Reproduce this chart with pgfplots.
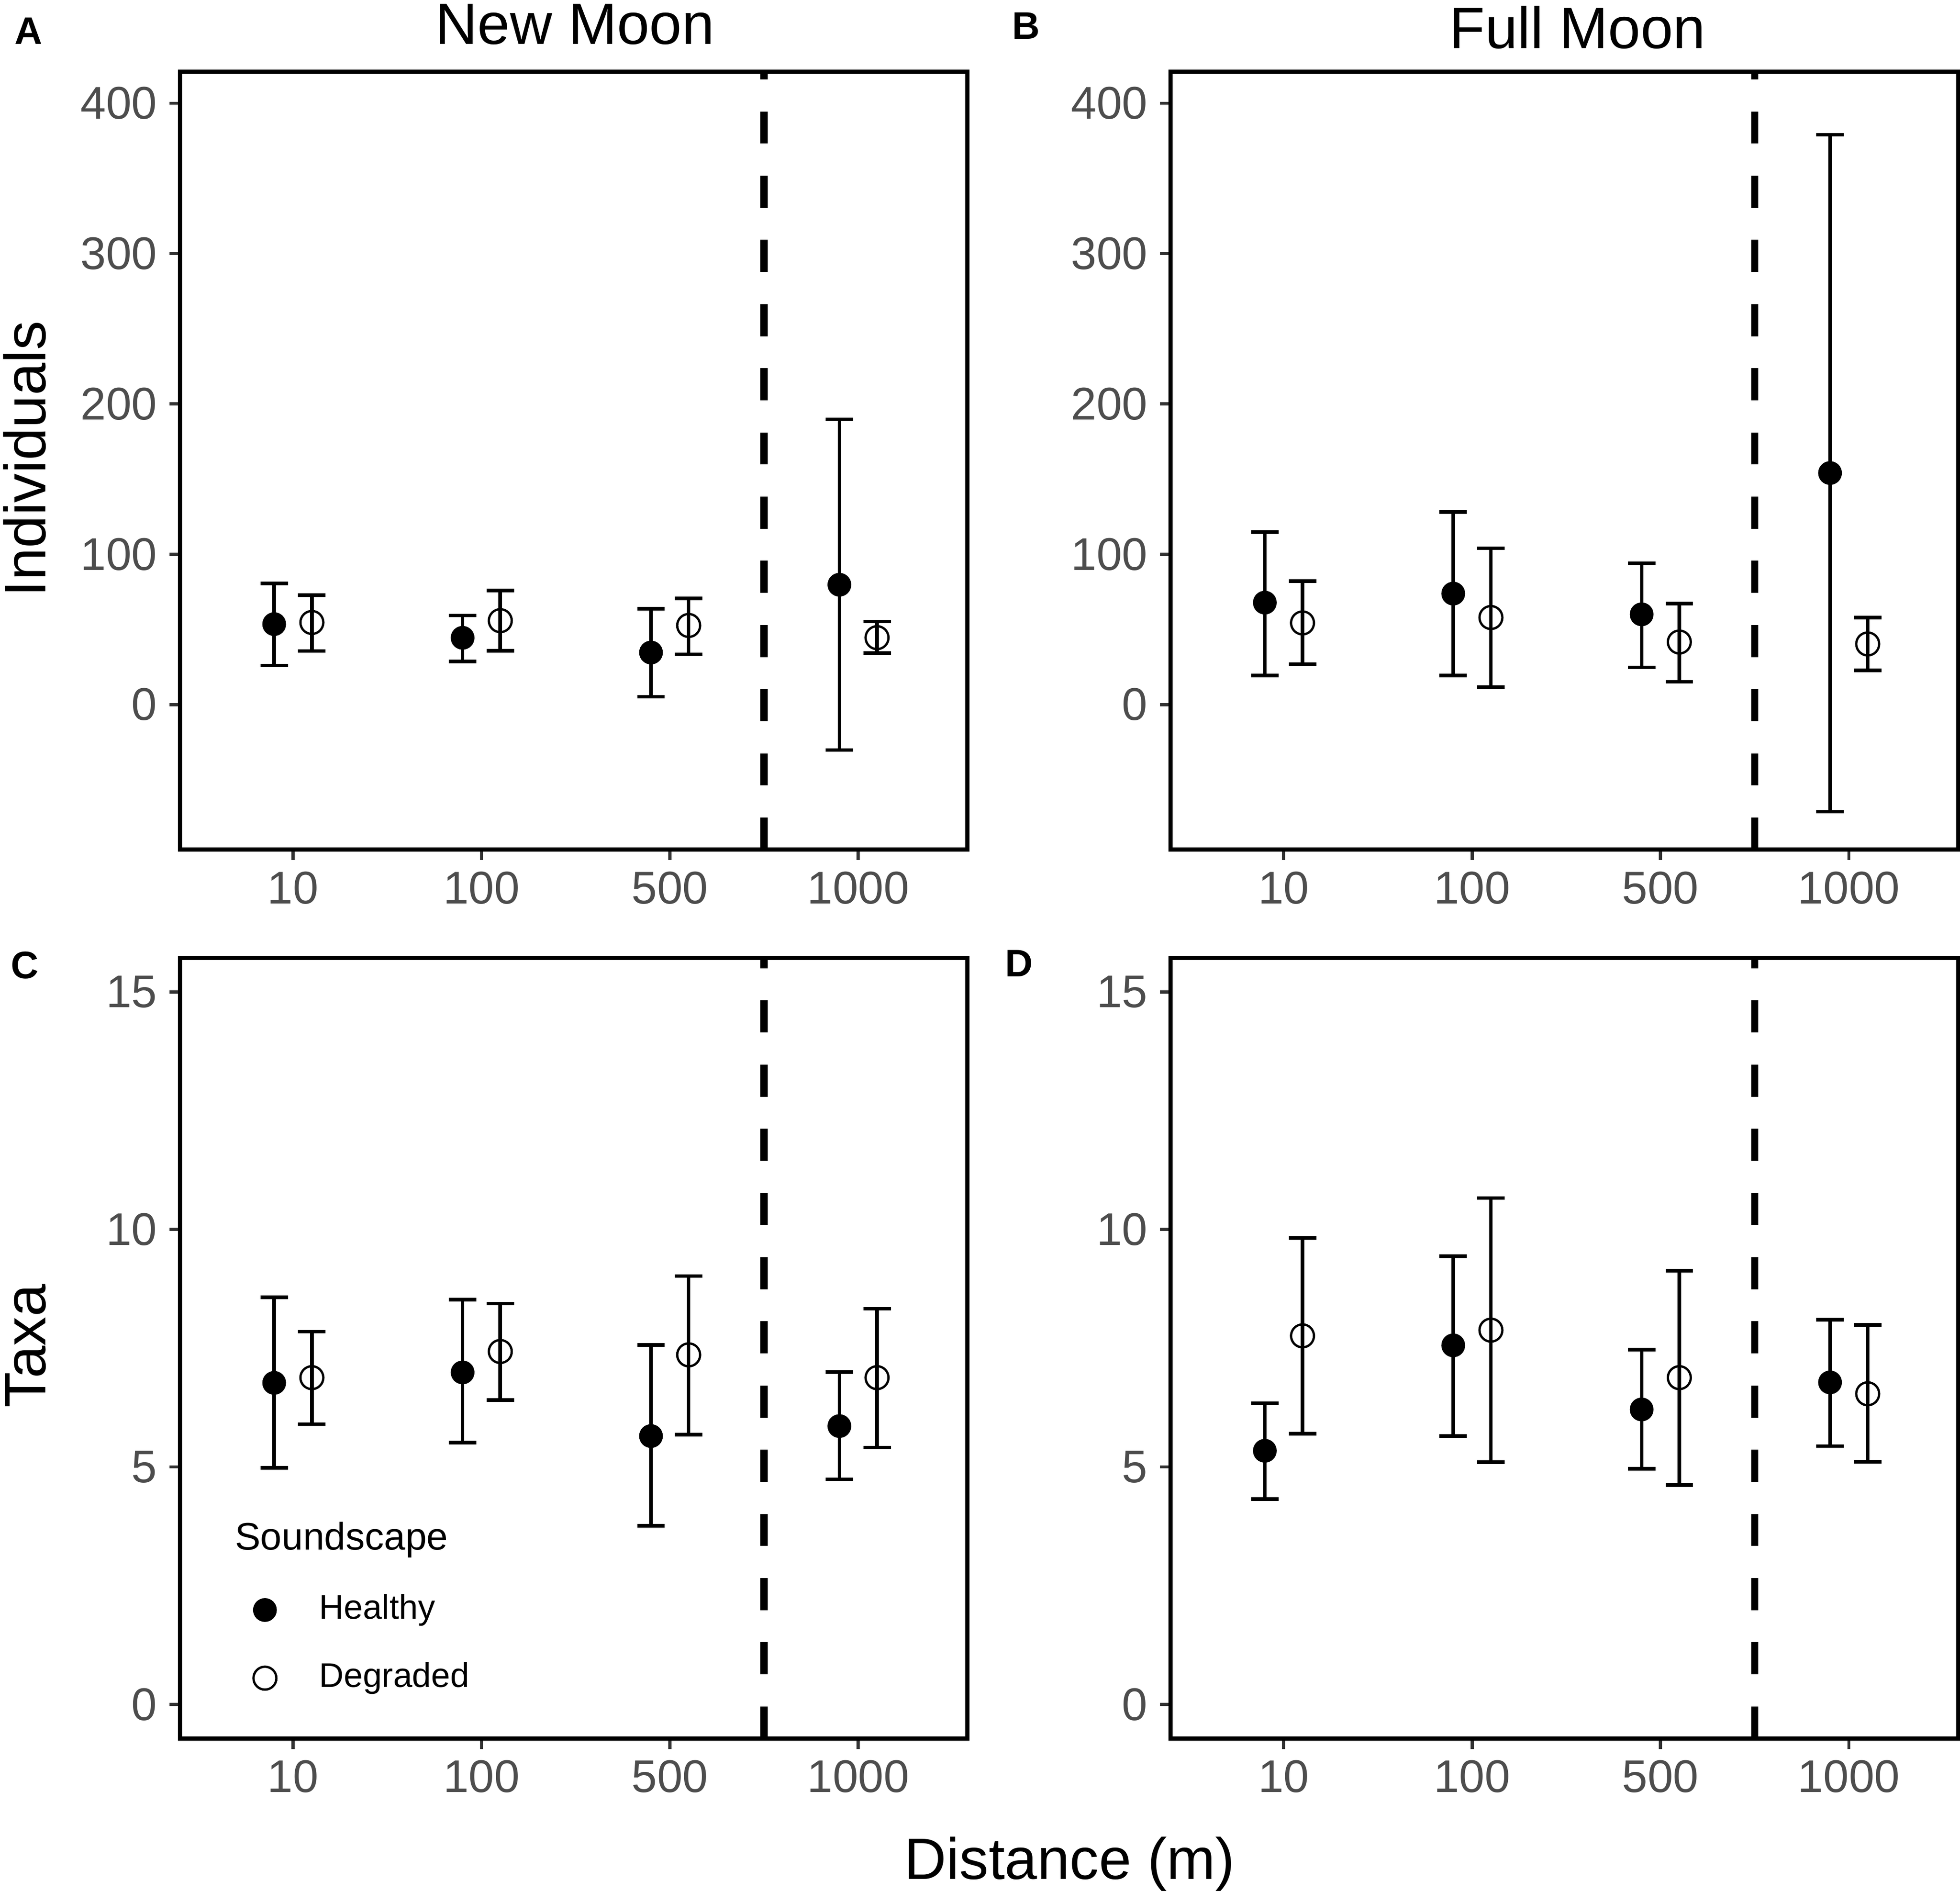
\documentclass[border=0pt]{standalone}
\usepackage{pgfplots}
\pgfplotsset{compat=1.18}
\usepackage{pgfplotstable}
\usepackage{fontspec}
\setmainfont{Liberation Sans}
\definecolor{tickgray}{RGB}{77,77,77}
\definecolor{tickline}{RGB}{51,51,51}

\pgfplotstableread{
x y lo hi
0.9 53.5 26.0 80.5
1.9 44.4 28.7 59.3
2.9 34.6 5.2 63.8
3.9 79.7 -30.3 189.7
}\AH
\pgfplotstableread{
x y lo hi
1.1 54.6 35.6 72.8
2.1 55.8 35.8 75.8
3.1 52.6 33.4 70.6
4.1 44.5 34.2 55.2
}\AD
\pgfplotstableread{
x y lo hi
0.9 67.8 19.3 114.8
1.9 73.8 19.3 128.0
2.9 60.0 24.8 93.8
3.9 154.0 -71.3 379.0
}\BH
\pgfplotstableread{
x y lo hi
1.1 54.3 26.8 82.0
2.1 57.9 11.6 104.0
3.1 41.6 15.1 67.2
4.1 40.3 22.7 57.9
}\BD
\pgfplotstableread{
x y lo hi
0.9 6.77 4.98 8.57
1.9 6.99 5.51 8.52
2.9 5.65 3.76 7.57
3.9 5.86 4.74 7.00
}\CH
\pgfplotstableread{
x y lo hi
1.1 6.88 5.90 7.85
2.1 7.43 6.41 8.44
3.1 7.36 5.68 9.02
4.1 6.88 5.41 8.33
}\CD
\pgfplotstableread{
x y lo hi
0.9 5.34 4.32 6.34
1.9 7.56 5.65 9.44
2.9 6.21 4.96 7.47
3.9 6.78 5.44 8.10
}\DH
\pgfplotstableread{
x y lo hi
1.1 7.76 5.70 9.82
2.1 7.88 5.10 10.66
3.1 6.88 4.62 9.13
4.1 6.54 5.11 7.99
}\DD

\pgfplotsset{
  panel/.style={
    scale only axis, width=189pt, anchor=south west,
    xmin=0.4, xmax=4.58,
    xtick={1,2,3,4}, xticklabels={10,100,500,1000},
    tick align=outside, tick pos=left,
    major tick length=2.55pt,
    tick style={tickline, line width=0.75pt},
    axis line style={line width=1pt, black},
    ticklabel style={font=\fontsize{11}{13}\selectfont, text=tickgray, inner sep=0pt},
    xticklabel style={yshift=-2.5pt},
    yticklabel style={xshift=-2.76pt},
    /pgf/number format/assume math mode=true,
    error bars/y dir=both, error bars/y explicit,
    error bars/error bar style={line width=0.85pt, black},
    error bars/error mark options={rotate=90, black, mark size=3.3pt, line width=0.85pt},
  },
  indiv/.style={panel, height=186.66pt, ymin=-96.5, ymax=421, ytick={0,100,200,300,400}},
  taxa/.style={panel, height=187.32pt, ymin=-0.72, ymax=15.72, ytick={0,5,10,15}},
  healthy/.style={only marks, black, mark=*, mark size=2.65pt,
    mark options={fill=black, draw=black, line width=0.4pt, solid},
    legend image code/.code={\draw[##1] plot coordinates {(0pt,0pt)};}},
  degraded/.style={only marks, black, mark=o, mark size=2.75pt,
    mark options={draw=black, line width=0.55pt, solid},
    legend image code/.code={\draw[##1] plot coordinates {(0pt,0pt)};}},
  vline/.style={forget plot, black, line width=1.7pt, dash pattern=on 7.7pt off 7.7pt, error bars/y dir=none},
}

\begin{document}
\begin{tikzpicture}
\useasboundingbox (0,0) rectangle (470.4pt,453.9pt);

% Panel A
\begin{axis}[indiv, at={(43.2pt,250.05pt)}]
\addplot[vline] coordinates {(3.5,-96.5) (3.5,421)};
\addplot[healthy] table[x=x, y=y, y error plus expr=\thisrow{hi}-\thisrow{y}, y error minus expr=\thisrow{y}-\thisrow{lo}] {\AH};
\addplot[degraded] table[x=x, y=y, y error plus expr=\thisrow{hi}-\thisrow{y}, y error minus expr=\thisrow{y}-\thisrow{lo}] {\AD};
\end{axis}

% Panel B
\begin{axis}[indiv, at={(280.95pt,250.05pt)}]
\addplot[vline] coordinates {(3.5,-96.5) (3.5,421)};
\addplot[healthy] table[x=x, y=y, y error plus expr=\thisrow{hi}-\thisrow{y}, y error minus expr=\thisrow{y}-\thisrow{lo}] {\BH};
\addplot[degraded] table[x=x, y=y, y error plus expr=\thisrow{hi}-\thisrow{y}, y error minus expr=\thisrow{y}-\thisrow{lo}] {\BD};
\end{axis}

% Panel C
\begin{axis}[taxa, at={(43.2pt,36.78pt)},
  legend cell align=left,
  legend style={draw=none, fill=none, at={(axis cs:0.79,2.325)}, anchor=north west,
    inner sep=0pt, outer sep=0pt, row sep=8.65pt, column sep=10.3pt,
    font=\fontsize{8.2}{9.8}\selectfont,
    nodes={inner sep=0pt, text height=6pt, text depth=1.7pt}}]
\addplot[vline] coordinates {(3.5,-0.72) (3.5,15.72)};
\addplot[healthy] table[x=x, y=y, y error plus expr=\thisrow{hi}-\thisrow{y}, y error minus expr=\thisrow{y}-\thisrow{lo}] {\CH};
\addlegendentry{Healthy}
\addplot[degraded] table[x=x, y=y, y error plus expr=\thisrow{hi}-\thisrow{y}, y error minus expr=\thisrow{y}-\thisrow{lo}] {\CD};
\addlegendentry{Degraded}
\end{axis}

% Panel D
\begin{axis}[taxa, at={(280.95pt,36.78pt)}]
\addplot[vline] coordinates {(3.5,-0.72) (3.5,15.72)};
\addplot[healthy] table[x=x, y=y, y error plus expr=\thisrow{hi}-\thisrow{y}, y error minus expr=\thisrow{y}-\thisrow{lo}] {\DH};
\addplot[degraded] table[x=x, y=y, y error plus expr=\thisrow{hi}-\thisrow{y}, y error minus expr=\thisrow{y}-\thisrow{lo}] {\DD};
\end{axis}

% legend title
\node[anchor=base west, inner sep=0pt, font=\fontsize{9.2}{11}\selectfont] at (56.2pt,82.05pt) {Soundscape};

% titles and labels
\node[anchor=base, inner sep=0pt, font=\fontsize{14}{16}\selectfont] at (138pt,443.25pt) {New Moon};
\node[anchor=base, inner sep=0pt, font=\fontsize{14}{16}\selectfont] at (378.6pt,442.32pt) {Full Moon};
\node[anchor=base, rotate=90, inner sep=0pt, font=\fontsize{14}{16}\selectfont] at (10.98pt,343.8pt) {Individuals};
\node[anchor=base, rotate=90, inner sep=0pt, font=\fontsize{14}{16}\selectfont] at (10.98pt,130.95pt) {Taxa};
\node[anchor=base, inner sep=0pt, font=\fontsize{14}{16}\selectfont] at (256.74pt,3.09pt) {Distance (m)};

% panel letters
\node[anchor=base west, inner sep=0pt, font=\fontsize{9.2}{11}\bfseries] at (3.36pt,443.25pt) {A};
\node[anchor=base west, inner sep=0pt, font=\fontsize{9.2}{11}\bfseries] at (242.7pt,444.57pt) {B};
\node[anchor=base west, inner sep=0pt, font=\fontsize{9.2}{11}\bfseries] at (2.43pt,219.15pt) {C};
\node[anchor=base west, inner sep=0pt, font=\fontsize{9.2}{11}\bfseries] at (241.08pt,219.6pt) {D};
\end{tikzpicture}
\end{document}
